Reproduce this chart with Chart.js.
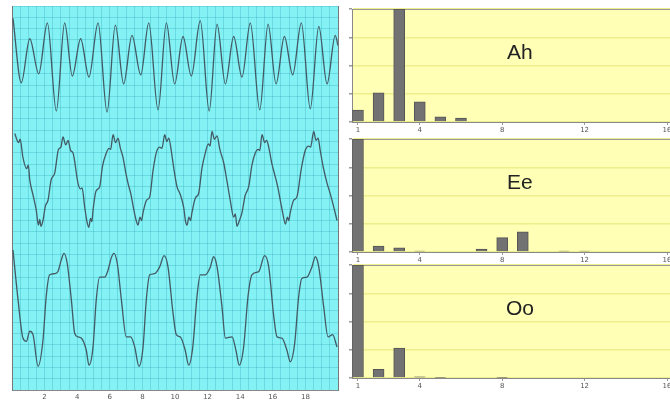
<!DOCTYPE html>
<html><head><meta charset="utf-8">
<script src="https://cdn.jsdelivr.net/npm/chart.js@4"></script>
<style>
html,body{margin:0;padding:0;background:#fff;overflow:hidden;width:670px;height:405px;position:relative;}
canvas{position:absolute;}
</style></head><body>
<canvas id="wave" width="345" height="405" style="left:0;top:0"></canvas>
<canvas id="sAh" width="340" height="133" style="left:340px;top:0"></canvas>
<canvas id="sEe" width="340" height="133" style="left:340px;top:130px"></canvas>
<canvas id="sOo" width="340" height="133" style="left:340px;top:256px"></canvas>
<script>
// ---- data ----
const xTickLabels = [2, 4, 6, 8, 10, 12, 14, 16, 18];
const specTicks = [1, 4, 8, 12, 16];
const vowels = ['Ah', 'Ee', 'Oo'];
const harmonics = [1, 2, 3, 4, 5, 6, 7, 8, 9, 10, 11, 12, 13, 14, 15, 16];
const ahBars = [0.42, 1.03, 4.0, 0.71, 0.18, 0.14, 0, 0, 0, 0, 0, 0, 0, 0, 0, 0];
const eeBars = [4.0, 0.21, 0.15, 0.03, 0, 0, 0.1, 0.51, 0.71, 0, 0.03, 0.03, 0, 0, 0, 0];
const ooBars = [4.0, 0.31, 1.06, 0.04, 0.02, 0, 0, 0.02, 0, 0, 0, 0, 0, 0, 0, 0];

const ahPts = [[0.06,32.9],[0.57,27.2],[1.09,31.1],[1.64,28.0],[2.17,32.5],[2.72,24.7],[3.23,32.5],[3.70,27.8],[4.21,31.1],[4.72,27.7],[5.28,32.5],[5.83,24.6],[6.34,32.3],[6.85,27.1],[7.36,31.4],[7.90,27.9],[8.39,32.5],[8.96,24.8],[9.47,32.5],[9.98,27.1],[10.49,31.3],[11.0,27.8],[11.55,32.7],[12.10,24.7],[12.58,32.4],[13.09,27.1],[13.6,31.3],[14.11,27.7],[14.62,32.5],[15.20,24.8],[15.71,32.4],[16.20,27.1],[16.71,31.3],[17.22,27.9],[17.75,32.5],[18.30,24.9],[18.82,32.2],[19.33,27.1],[19.83,31.4],[20.0,30.5]];

const eePts = [[0.17,22.7],[0.40,21.9],[0.50,22.2],[0.67,20.6],[0.90,19.6],[1.00,19.9],[1.09,18.6],[1.30,17.2],[1.49,15.9],[1.62,14.6],[1.70,15.1],[1.78,14.5],[1.90,15.0],[2.05,16.3],[2.21,16.8],[2.40,18.6],[2.62,19.2],[2.85,21.3],[3.00,21.5],[3.13,22.4],[3.29,21.7],[3.44,22.1],[3.60,21.2],[3.74,21.0],[4.05,18.3],[4.20,17.8],[4.30,17.9],[4.46,16.2],[4.60,14.9],[4.71,14.4],[4.82,15.2],[4.90,14.9],[4.97,15.9],[5.15,17.6],[5.38,18.0],[5.55,19.8],[5.79,21.0],[5.95,21.4],[6.05,21.3],[6.20,22.6],[6.35,21.9],[6.50,22.3],[6.65,21.4],[6.81,20.6],[7.00,19.1],[7.12,18.3],[7.30,17.3],[7.48,15.9],[7.62,15.0],[7.73,14.6],[7.85,15.3],[7.95,15.0],[8.04,15.7],[8.25,16.8],[8.45,17.1],[8.65,19.4],[8.85,21.0],[9.05,21.5],[9.20,21.4],[9.37,22.6],[9.50,22.0],[9.62,22.3],[9.77,21.2],[9.95,19.4],[10.12,18.0],[10.30,17.4],[10.53,16.2],[10.65,14.9],[10.74,14.6],[10.85,15.3],[10.95,15.0],[11.04,15.7],[11.25,17.0],[11.45,17.4],[11.65,19.6],[11.86,21.0],[12.05,21.8],[12.15,21.6],[12.27,22.9],[12.42,22.2],[12.58,22.5],[12.75,21.3],[12.99,20.1],[13.20,18.4],[13.39,16.8],[13.60,15.3],[13.70,15.6],[13.80,14.5],[13.95,15.0],[14.11,15.7],[14.30,17.2],[14.52,18.0],[14.72,19.9],[14.93,21.0],[15.10,21.3],[15.20,21.2],[15.34,22.6],[15.50,21.9],[15.62,22.1],[15.75,21.5],[15.95,20.0],[16.15,18.9],[16.30,18.0],[16.46,16.8],[16.62,15.6],[16.77,14.7],[16.90,15.3],[16.98,15.0],[17.07,15.7],[17.28,16.8],[17.48,17.1],[17.75,19.6],[17.99,21.2],[18.20,21.6],[18.32,21.5],[18.51,22.9],[18.65,22.1],[18.78,22.3],[18.91,21.2],[19.10,19.7],[19.33,18.3],[19.50,17.5],[19.74,16.2],[19.94,15.0]];

const ooPts = [[0.06,12.4],[0.37,8.0],[0.67,4.6],[0.88,4.3],[1.09,5.2],[1.29,4.9],[1.60,2.1],[1.90,4.4],[2.10,8.3],[2.31,10.2],[2.62,10.3],[2.82,10.5],[3.02,11.5],[3.19,12.1],[3.39,11.2],[3.64,8.0],[3.85,5.0],[4.05,4.7],[4.25,4.6],[4.56,3.5],[4.72,2.2],[4.97,3.8],[5.17,8.0],[5.38,10.0],[5.69,10.0],[5.89,10.6],[6.09,11.7],[6.26,12.1],[6.46,11.2],[6.71,8.0],[7.01,4.7],[7.28,4.7],[7.53,3.8],[7.79,2.1],[8.04,3.8],[8.24,8.0],[8.45,10.2],[8.75,10.3],[9.06,10.9],[9.33,11.9],[9.57,10.9],[9.88,6.8],[10.08,4.9],[10.33,4.7],[10.63,3.5],[10.84,2.2],[11.09,3.8],[11.35,8.3],[11.55,10.2],[11.86,10.2],[12.17,10.9],[12.37,11.8],[12.58,10.9],[12.88,7.4],[13.09,4.6],[13.50,4.7],[13.74,3.5],[13.94,2.2],[14.21,3.8],[14.48,8.3],[14.72,10.2],[15.14,10.5],[15.50,11.9],[15.75,10.9],[16.06,6.5],[16.26,4.7],[16.56,4.6],[16.87,3.5],[17.07,2.5],[17.34,4.1],[17.59,8.3],[17.79,9.9],[18.10,10.0],[18.40,10.9],[18.61,11.8],[18.82,10.9],[19.12,7.4],[19.39,4.7],[19.67,4.9],[19.94,3.8]];

// ---- plugins ----
const areaBg = {
  id: 'areaBg',
  beforeDraw(chart, args, opts) {
    const a = chart.chartArea, c = chart.ctx;
    c.save(); c.fillStyle = opts.color;
    c.fillRect(a.left, a.top, a.right - a.left, a.bottom - a.top);
    c.restore();
  }
};
const vowelLabel = {
  id: 'vowelLabel',
  afterDatasetsDraw(chart, args, opts) {
    if (!opts.text) return;
    const a = chart.chartArea, c = chart.ctx;
    c.save();
    c.font = '21px "Liberation Sans", Arial, sans-serif';
    c.fillStyle = '#222';
    c.textAlign = 'center'; c.textBaseline = 'middle';
    c.fillText(opts.text, a.left + 0.512 * (a.right - a.left), a.top + 0.39 * (a.bottom - a.top));
    c.restore();
  }
};

const waveGrid = 'rgba(30,150,170,0.26)';
new Chart(document.getElementById('wave'), {
  type: 'line',
  data: { datasets: [ahPts, eePts, ooPts].map((p, i) => ({
    label: vowels[i],
    data: p.map(([x, y]) => ({ x, y })),
    borderColor: '#435a64', borderWidth: 1.3, pointRadius: 0,
    cubicInterpolationMode: 'monotone', fill: false
  })) },
  options: {
    responsive: false, animation: false, events: [],
    layout: { padding: { left: 0, right: 7, top: 6, bottom: 0 } },
    plugins: { legend: { display: false }, tooltip: { enabled: false }, areaBg: { color: '#84f2f5' } },
    scales: {
      x: { type: 'linear', min: 0, max: 20, offset: false,
        ticks: { stepSize: 0.5, autoSkip: false, maxRotation: 0, font: { size: 7, family: 'DejaVu Sans' }, color: '#555', padding: 3,
          callback: v => xTickLabels.includes(v) ? String(v) : '' },
        grid: { color: waveGrid, tickLength: 0 }, border: { color: '#888' },
        afterFit: ax => { ax.height = 15; } },
      y: { min: 0, max: 34, ticks: { display: false, stepSize: 1 },
        grid: { color: waveGrid, drawTicks: false }, border: { color: '#777' },
        afterFit: ax => { ax.width = 12; } },
      y2: { position: 'right', min: 0, max: 34, ticks: { display: false },
        grid: { display: false, drawTicks: false }, border: { color: '#777' },
        afterFit: ax => { ax.width = 0; } }
    }
  },
  plugins: [areaBg]
});

function spectrum(id, vals, name) {
  new Chart(document.getElementById(id), {
    type: 'bar',
    data: { datasets: [{ label: name,
      data: harmonics.map((h, i) => ({ x: h, y: vals[i] })),
      backgroundColor: '#727272', borderColor: '#555', borderWidth: 1, barThickness: 11 }] },
    options: {
      responsive: false, animation: false, events: [],
      layout: { padding: { left: 0, right: 0, top: 9, bottom: 0 } },
      plugins: { legend: { display: false }, tooltip: { enabled: false },
        areaBg: { color: '#ffffb6' }, vowelLabel: { text: name } },
      scales: {
        x: { type: 'linear', min: 0.71, max: 16.63, offset: false,
          afterBuildTicks: ax => { ax.ticks = specTicks.map(v => ({ value: v })); },
          ticks: { autoSkip: false, maxRotation: 0, font: { size: 7, family: 'DejaVu Sans' }, color: '#555', padding: 1 },
          grid: { drawOnChartArea: false, tickLength: 3, tickColor: '#999', offset: false }, border: { color: '#888' },
          afterFit: ax => { ax.height = 11; } },
        x2: { type: 'linear', position: 'top', min: 0.71, max: 16.63, offset: false, ticks: { display: false },
          grid: { display: false, drawTicks: false }, border: { color: '#999' },
          afterFit: ax => { ax.height = 0; } },
        y: { min: 0, max: 4, ticks: { display: false, stepSize: 1 },
          grid: { color: '#eeee8c', lineWidth: 1.5, tickLength: 3, tickColor: '#999' }, border: { color: '#888' },
          afterFit: ax => { ax.width = 12; } }
      }
    },
    plugins: [areaBg, vowelLabel]
  });
}
spectrum('sAh', ahBars, vowels[0]);
spectrum('sEe', eeBars, vowels[1]);
spectrum('sOo', ooBars, vowels[2]);
</script>
</body></html>
